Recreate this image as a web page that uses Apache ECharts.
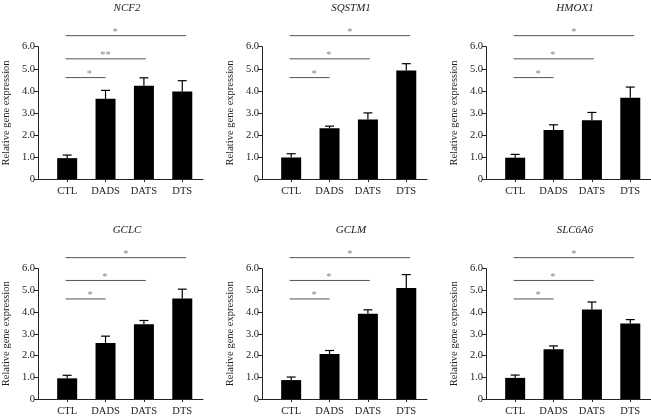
<!DOCTYPE html>
<html>
<head>
<meta charset="utf-8">
<script src="https://cdn.jsdelivr.net/npm/echarts@6/dist/echarts.min.js"></script>
<style>
html,body{margin:0;padding:0;background:#fff;}
#c{width:651px;height:417px;}
</style>
</head>
<body>
<div id="c"></div>
<script>
// ---- data ----
const categories = ['CTL', 'DADS', 'DATS', 'DTS'];
const genes = ['NCF2', 'SQSTM1', 'HMOX1', 'GCLC', 'GCLM', 'SLC6A6'];

const ncf2Mean   = [0.95, 3.64, 4.23, 3.97];
const ncf2Err    = [0.14, 0.38, 0.36, 0.49];
const sqstm1Mean = [0.98, 2.30, 2.70, 4.92];
const sqstm1Err  = [0.17, 0.10, 0.30, 0.31];
const hmox1Mean  = [0.97, 2.22, 2.67, 3.69];
const hmox1Err   = [0.15, 0.24, 0.35, 0.48];
const gclcMean   = [0.95, 2.58, 3.44, 4.62];
const gclcErr    = [0.14, 0.31, 0.17, 0.43];
const gclmMean   = [0.87, 2.07, 3.92, 5.10];
const gclmErr    = [0.14, 0.16, 0.18, 0.62];
const slc6a6Mean = [0.97, 2.29, 4.12, 3.47];
const slc6a6Err  = [0.13, 0.15, 0.34, 0.18];

const yTicks = [0, 1, 2, 3, 4, 5, 6];
const yTickLabels = ['0', '1.0', '2.0', '3.0', '4.0', '5.0', '6.0'];

// significance brackets (CTL vs DADS, DATS, DTS)
const bracketStart = [-0.04, -0.04, -0.04];
const bracketEnd   = [1.0, 2.05, 3.1];
const bracketY     = [4.6, 5.45, 6.5];
const ncf2Stars    = ['*', '**', '*'];
const otherStars   = ['*', '*', '*'];
const ncf2StarX    = [0.58, 1.0, 1.25];
const otherStarX   = [0.6, 0.98, 1.53];

const means = [ncf2Mean, sqstm1Mean, hmox1Mean, gclcMean, gclmMean, slc6a6Mean];
const errs  = [ncf2Err, sqstm1Err, hmox1Err, gclcErr, gclmErr, slc6a6Err];
const stars = [ncf2Stars, otherStars, otherStars, otherStars, otherStars, otherStars];
const starX = [ncf2StarX, otherStarX, otherStarX, otherStarX, otherStarX, otherStarX];

// ---- layout ----
const FONT = 'Liberation Serif';
const TXT = '#222';
const grids = [], xAxes = [], yAxes = [], titles = [], series = [];

genes.forEach((g, i) => {
  const col = i % 3, row = Math.floor(i / 3);
  const left = 38 + 224 * col;
  const top = row === 0 ? 46.7 : 268.5;
  const h = 132.4;
  grids.push({ left: left, top: top, width: 165, height: h, containLabel: false });
  titles.push({
    text: g, left: left + 84, top: row === 0 ? -2 : 220, textAlign: 'center',
    textStyle: { fontFamily: FONT, fontStyle: 'italic', fontWeight: 'normal', fontSize: 11, color: TXT }
  });
  xAxes.push({
    type: 'value', gridIndex: i, min: -0.76, max: 3.54,
    splitLine: { show: false },
    axisLine: { show: true, onZero: false, lineStyle: { color: TXT, width: 1 } },
    axisTick: { show: true, customValues: [0, 1, 2, 3], length: 3, lineStyle: { color: TXT } },
    axisLabel: {
      customValues: [0, 1, 2, 3], formatter: v => categories[Math.round(v)],
      margin: 7, fontFamily: FONT, fontSize: 10.5, color: TXT
    }
  });
  yAxes.push({
    type: 'value', gridIndex: i, min: 0, max: 6, interval: 1,
    splitLine: { show: false },
    axisLine: { show: true, onZero: false, lineStyle: { color: TXT, width: 1 } },
    axisTick: { show: true, length: 4, lineStyle: { color: TXT } },
    axisLabel: {
      formatter: v => yTickLabels[yTicks.indexOf(v)],
      margin: 3, fontFamily: FONT, fontSize: 10.5, color: TXT
    },
    name: 'Relative gene expression', nameLocation: 'middle', nameGap: 26, nameRotate: 90,
    nameTextStyle: { fontFamily: FONT, fontSize: 10.5, color: TXT }
  });

  // bars
  series.push({
    type: 'bar', xAxisIndex: i, yAxisIndex: i, barWidth: 20,
    itemStyle: { color: '#000' }, silent: true,
    data: means[i].map((m, k) => [k, m])
  });
  // error bars
  series.push({
    type: 'custom', xAxisIndex: i, yAxisIndex: i, clip: false, silent: true, z: 3,
    data: means[i].map((m, k) => [k, m, m + errs[i][k]]),
    renderItem: (params, api) => {
      const p0 = api.coord([api.value(0), api.value(1)]);
      const p1 = api.coord([api.value(0), api.value(2)]);
      const cw = 4.5;
      const st = { stroke: '#000', lineWidth: 1.2 };
      return {
        type: 'group', children: [
          { type: 'line', shape: { x1: p0[0], y1: p0[1], x2: p1[0], y2: p1[1] }, style: st },
          { type: 'line', shape: { x1: p1[0] - cw, y1: p1[1], x2: p1[0] + cw, y2: p1[1] }, style: st }
        ]
      };
    }
  });
  // brackets
  bracketY.forEach((y, b) => {
    series.push({
      type: 'line', xAxisIndex: i, yAxisIndex: i, clip: false, silent: true,
      symbol: 'none', lineStyle: { color: '#555', width: 1 },
      data: [[bracketStart[b], y], [bracketEnd[b], y]]
    });
  });
  // asterisks
  series.push({
    type: 'scatter', xAxisIndex: i, yAxisIndex: i, clip: false, silent: true,
    symbolSize: 0,
    data: bracketY.map((y, b) => ({ value: [starX[i][b], y + 0.25], name: stars[i][b] })),
    label: {
      show: true, position: 'inside', formatter: p => p.name, offset: [0, 2],
      fontFamily: FONT, fontSize: 10.5, color: '#666'
    }
  });
});

const chart = echarts.init(document.getElementById('c'), null, { renderer: 'canvas' });
chart.setOption({
  animation: false,
  backgroundColor: '#fff',
  title: titles,
  grid: grids,
  xAxis: xAxes,
  yAxis: yAxes,
  series: series
});
</script>
</body>
</html>
